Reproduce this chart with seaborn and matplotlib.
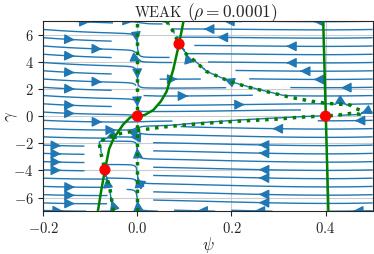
import numpy as np
import matplotlib
matplotlib.use("Agg")
import matplotlib.pyplot as plt
from matplotlib.path import Path
import seaborn as sns

# gamma-nullcline (solid green)
solid_psi = [-0.084, -0.077, -0.069, -0.060, -0.050, -0.030, -0.015, 0.0, 0.015, 0.034, 0.050, 0.062, 0.076, 0.0885, 0.098]
solid_gam = [-7.0, -5.5, -3.95, -2.4, -1.6, -0.6, -0.08, 0.0, 0.08, 0.46, 1.1, 1.81, 3.41, 5.32, 7.0]
right_psi = [0.395, 0.406]
right_gam = [7.0, -7.0]

# psi-nullcline (dotted green), one curve from top to bottom
dot_psi = [0.062, 0.076, 0.0885, 0.105, 0.119, 0.147, 0.197, 0.232, 0.275, 0.324, 0.374, 0.400, 0.431,
           0.452, 0.462, 0.473, 0.477, 0.473, 0.452, 0.431, 0.403, 0.346, 0.303, 0.250, 0.197, 0.133,
           0.091, 0.048, 0.0, -0.037, -0.065, -0.082, -0.079, -0.076, -0.069, -0.058, -0.051]
dot_gam = [7.0, 6.24, 5.32, 4.52, 4.15, 3.29, 2.55, 2.18, 1.81, 1.40, 1.08, 0.96, 0.88,
           0.83, 0.59, 0.46, 0.22, 0.15, 0.20, 0.10, 0.02, -0.07, -0.20, -0.30, -0.40, -0.55,
           -0.68, -0.82, -1.05, -1.28, -1.60, -1.90, -2.40, -2.98, -3.95, -5.43, -7.0]

# fixed points (red)
fp_psi = [0.0, 0.4, 0.0885, -0.069]
fp_gam = [0.0, 0.0, 5.32, -3.95]

xlim = (-0.2, 0.5)
ylim = (-7, 7)

sns.set_style("ticks", {"axes.grid": True, "grid.color": "#cccccc"})
plt.rcParams["font.family"] = ["cmr10"]
plt.rcParams["mathtext.fontset"] = "cm"
plt.rcParams["axes.formatter.use_mathtext"] = True

# vector field built from the nullclines above
xg = np.linspace(xlim[0], xlim[1], 141)
yg = np.linspace(ylim[0], ylim[1], 141)
X, Y = np.meshgrid(xg, yg)

cx, cy = np.array(dot_psi), np.array(dot_gam)
seg = np.hypot(np.diff(cx) / 0.7, np.diff(cy) / 14)
t = np.concatenate([[0], np.cumsum(seg)])
tt = np.linspace(0, t[-1], 900)
px, py = np.interp(tt, t, cx), np.interp(tt, t, cy)
dist = np.full(X.shape, np.inf)
for a, b in zip(px, py):
    dist = np.minimum(dist, np.hypot((X - a) / 0.7, (Y - b) / 14))

outline = np.vstack([[[cx[0], 8]], np.column_stack([cx, cy]), [[cx[-1], -8], [-0.3, -8], [-0.3, 8]]])
inside = Path(outline).contains_points(np.column_stack([X.ravel(), Y.ravel()])).reshape(X.shape)
sgn = np.where(inside, 1.0, -1.0)

U = sgn * np.minimum(dist / 0.02, 1) * np.minimum((X / 0.04) ** 2, 1)
s_y = np.interp(Y, solid_gam, solid_psi)
r_y = np.interp(Y, right_gam[::-1], right_psi[::-1])
V = 15 * (X - s_y) * (r_y - X)

fig = plt.figure(figsize=(3.74, 2.54), dpi=100)
ax = fig.add_axes([0.1158, 0.1685, 0.8805, 0.748])

ax.streamplot(X, Y, U, V, density=0.8, color="#1f77b4", linewidth=1.0, arrowsize=1.5, zorder=2)

sns.lineplot(x=solid_psi, y=solid_gam, sort=False, estimator=None, color="green", lw=1.8, ax=ax, zorder=3)
sns.lineplot(x=right_psi, y=right_gam, sort=False, estimator=None, color="green", lw=1.8, ax=ax, zorder=3)
sns.lineplot(x=dot_psi, y=dot_gam, sort=False, estimator=None, color="green", lw=2.5, ls=":", ax=ax, zorder=3)
ax.axvline(0, color="green", lw=2.5, ls=":", zorder=3)
sns.scatterplot(x=fp_psi, y=fp_gam, color="red", s=65, edgecolor="none", ax=ax, zorder=5)

ax.set_xlim(xlim)
ax.set_ylim(ylim)
ax.set_xticks([-0.2, 0.0, 0.2, 0.4])
ax.set_yticks([-6, -4, -2, 0, 2, 4, 6])
ax.tick_params(labelsize=10.5)
ax.set_xlabel(r"$\psi$", fontsize=12)
ax.set_ylabel(r"$\gamma$", fontsize=12)
ax.xaxis.set_label_coords(0.5, -0.125)
ax.yaxis.set_label_coords(-0.072, 0.5)

# title: small-caps "weak" imitated with smaller capitals
fig.text(0.4874, 0.9343, "WEAK", fontsize=10.5, ha="right", va="baseline")
fig.text(0.5008, 0.9343, r"($\rho = 0.0001$)", fontsize=12.5, ha="left", va="baseline")

fig.savefig("out.png", dpi=100)
